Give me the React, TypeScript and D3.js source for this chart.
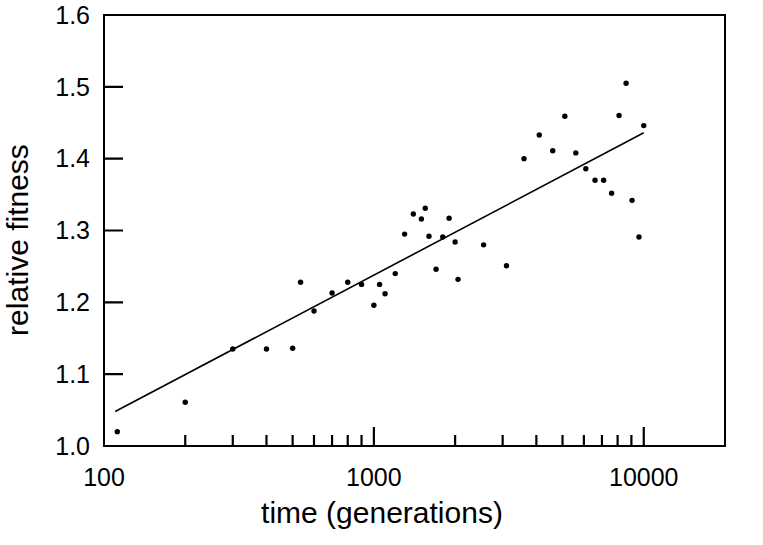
import * as React from 'react';
import { useEffect } from 'react';
import * as d3 from 'd3';

const generations = [
  112, 200, 300, 400, 500, 535, 600, 700, 800, 900,
  1000, 1050, 1100, 1200, 1300, 1400, 1500, 1550, 1600, 1700,
  1800, 1900, 2000, 2050, 2550, 3100, 3600, 4100, 4600, 5100,
  5600, 6100, 6600, 7100, 7600, 8100, 8600, 9050, 9600, 10000,
];
const fitness = [
  1.020, 1.061, 1.135, 1.135, 1.136, 1.228, 1.188, 1.213, 1.228, 1.225,
  1.196, 1.225, 1.212, 1.240, 1.295, 1.323, 1.316, 1.331, 1.292, 1.246,
  1.291, 1.317, 1.284, 1.232, 1.280, 1.251, 1.400, 1.433, 1.411, 1.459,
  1.408, 1.386, 1.370, 1.370, 1.352, 1.460, 1.505, 1.342, 1.291, 1.446,
];
const fitGenerations = [110, 10000];
const fitValues = [1.048, 1.436];

const yTicks = [1.0, 1.1, 1.2, 1.3, 1.4, 1.5, 1.6];
const xMajorTicks = [100, 1000, 10000];
const xMinorTicks = [
  200, 300, 400, 500, 600, 700, 800, 900,
  2000, 3000, 4000, 5000, 6000, 7000, 8000, 9000,
];

const FONT = 'Liberation Sans, Arial, Helvetica, sans-serif';

const left = 104, right = 725, top = 15, bottom = 446;
const x = d3.scaleLog().domain([100, 20000]).range([left, right]);
const y = d3.scaleLinear().domain([1.0, 1.6]).range([bottom, top]);

const FitnessChart: React.FC = () => {
  useEffect(() => {
    document.body.style.margin = '0';
  }, []);

  const fitLine = d3.line<number>()
    .x((_, i) => x(fitGenerations[i]))
    .y(d => y(d));

  // tick marks built from the tick arrays through the scales
  const tickPath = [
    ...yTicks.slice(1, -1).map(v => `M${left},${y(v)}h19`),
    ...xMinorTicks.map(v => `M${x(v)},${bottom}v-11`),
    ...xMajorTicks.slice(1).map(v => `M${x(v)},${bottom}v-19`),
  ].join('');

  return (
    <svg width={763} height={545} style={{ display: 'block', background: '#fff' }}>
      <path d={tickPath} fill="none" stroke="#000" strokeWidth={2.2} />

      <rect x={left} y={top} width={right - left} height={bottom - top}
        fill="none" stroke="#000" strokeWidth={2} />

      {yTicks.map(v => (
        <text key={`yl${v}`} x={left - 14} y={y(v)} dy="0.35em" textAnchor="end"
          fontFamily={FONT} fontSize={25} fill="#000">{d3.format('.1f')(v)}</text>
      ))}
      {xMajorTicks.map(v => (
        <text key={`xl${v}`} x={x(v)} y={bottom + 40} textAnchor="middle"
          fontFamily={FONT} fontSize={25} fill="#000">{String(v)}</text>
      ))}

      {/* regression line */}
      <path d={fitLine(fitValues) ?? ''} fill="none" stroke="#000" strokeWidth={1.6} />

      {/* points */}
      {fitness.map((v, i) => (
        <circle key={`p${i}`} cx={x(generations[i])} cy={y(v)} r={2.7} fill="#000" />
      ))}

      <text x={382} y={523} textAnchor="middle" fontFamily={FONT} fontSize={30} fill="#000">
        time (generations)
      </text>
      <text transform="translate(28,240) rotate(-90)" textAnchor="middle"
        fontFamily={FONT} fontSize={30} fill="#000">
        relative fitness
      </text>
    </svg>
  );
};

export default function App() {
  return <FitnessChart />;
}
